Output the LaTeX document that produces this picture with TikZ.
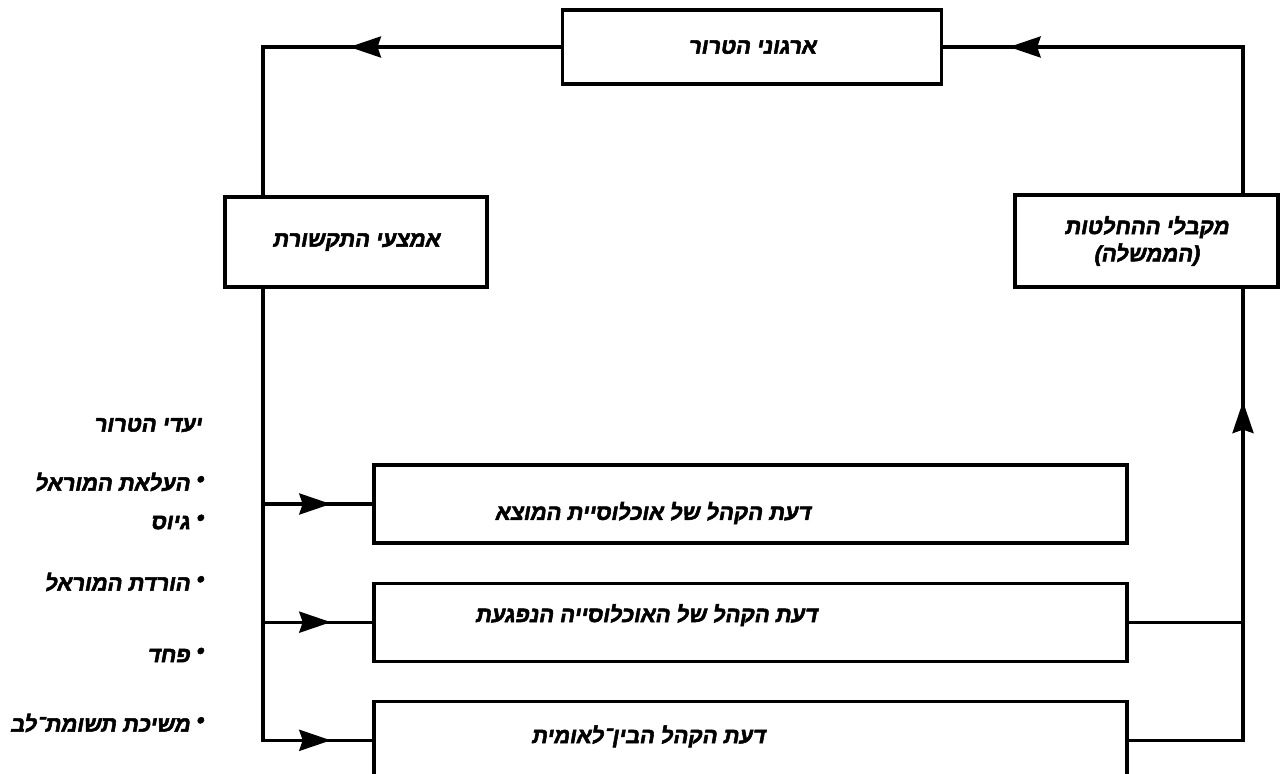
\documentclass[tikz,border=0pt]{standalone}
\usepackage{fontspec}
\usepackage{tikz}
\usetikzlibrary{positioning}
\usetikzlibrary{calc}
\usetikzlibrary{arrows.meta}
\usetikzlibrary{decorations.markings}
\TeXXeTstate=1
\newfontfamily\hebfont[Script=Hebrew, FakeBold=2.4, FakeSlant=0.18]{Liberation Sans Bold}
\newcommand{\hebtxt}[1]{{\hebfont\beginR #1\endR}}
\tikzstyle{block} = [draw, rectangle, line width=1.8pt, font=\fontsize{12.5}{15.5}\selectfont, align=center]
\tikzstyle{wide} = [block, minimum width=15.06cm, minimum height=1.56cm]
\tikzstyle{txt} = [font=\fontsize{12.5}{15.5}\selectfont]
\tikzstyle{goal} = [txt, anchor=east, inner sep=0pt]
\tikzstyle{coord} = [coordinate]
\tikzset{midarrow/.style={decoration={markings,mark=at position #1 with {\arrow{Stealth[length=18pt,width=12pt,inset=2pt]}}},postaction={decorate}}}
\begin{document}
\begin{tikzpicture}[line width=1.8pt, line cap=rect]%[auto, node distance=2cm]
    \useasboundingbox (0,0) rectangle (25.72,-15.48);
    \node [block, minimum width=7.58cm, minimum height=1.48cm] (org) at (15.04,-0.94) {\hebtxt{ארגוני הטרור}};
    \node [block, minimum width=5.24cm, minimum height=1.8cm] (media) at (7.12,-4.84) {\hebtxt{אמצעי התקשורת}};
    \node [block, minimum width=5.26cm, minimum height=1.84cm] (gov) at (22.93,-4.82) {\hebtxt{מקבלי ההחלטות}\\\hebtxt{(הממשלה)}};

    \node [wide] (origin) at (15.01,-10.08) {};
    \node [wide, below=0.74cm of origin] (victim) {};
    \node [wide, below=0.74cm of victim] (world) {};
    \node [txt] at ($(origin.center)+(-1.96,-0.18)$) {\hebtxt{דעת הקהל של אוכלוסיית המוצא}};
    \node [txt] at ($(victim.center)+(-2.09,0.14)$) {\hebtxt{דעת הקהל של האוכלוסייה הנפגעת}};
    \node [txt] at ($(world.center)+(-2.05,0.08)$) {\hebtxt{דעת הקהל הבין־לאומית}};

    \node [goal] (goals) at (4.06,-8.5) {\hebtxt{יעדי הטרור}};
    \node [goal] (g1) at (4.1,-9.64) {\hebtxt{\raisebox{0.35ex}{•} העלאת המוראל}};
    \node [goal] (g2) at (4.1,-10.44) {\hebtxt{\raisebox{0.35ex}{•} גיוס}};
    \node [goal] (g3) at (4.1,-11.64) {\hebtxt{\raisebox{0.35ex}{•} הורדת המוראל}};
    \node [goal] (g4) at (4.1,-13.1) {\hebtxt{\raisebox{0.35ex}{•} פחד}};
    \node [goal] (g5) at (4.1,-14.46) {\hebtxt{\raisebox{0.35ex}{•} משיכת תשומת־לב}};

    \coordinate (tl) at (5.26,-0.94);
    \coordinate (tr) at (24.86,-0.94);
    \coordinate (lb) at (tl |- world.west);
    \coordinate (rb) at (tr |- world.east);

    \draw [midarrow=0.71] (org.west) -- (tl);
    \draw (tl) -- (tl |- media.north);
    \draw (tr) -- (tr |- gov.north);
    \draw [midarrow=0.78] (tr) -- (org.east);

    \draw (tl |- media.south) -- (lb);
    \draw [midarrow=0.62] (tl |- origin.west) -- (origin.west);
    \draw [midarrow=0.62] (tl |- victim.west) -- (victim.west);
    \draw [midarrow=0.62] (lb) -- (world.west);

    \draw (victim.east) -- (tr |- victim.east);
    \draw (world.east) -- (rb);
    \draw [midarrow=0.75] (rb) -- (tr |- gov.south);
\end{tikzpicture}
\end{document}
